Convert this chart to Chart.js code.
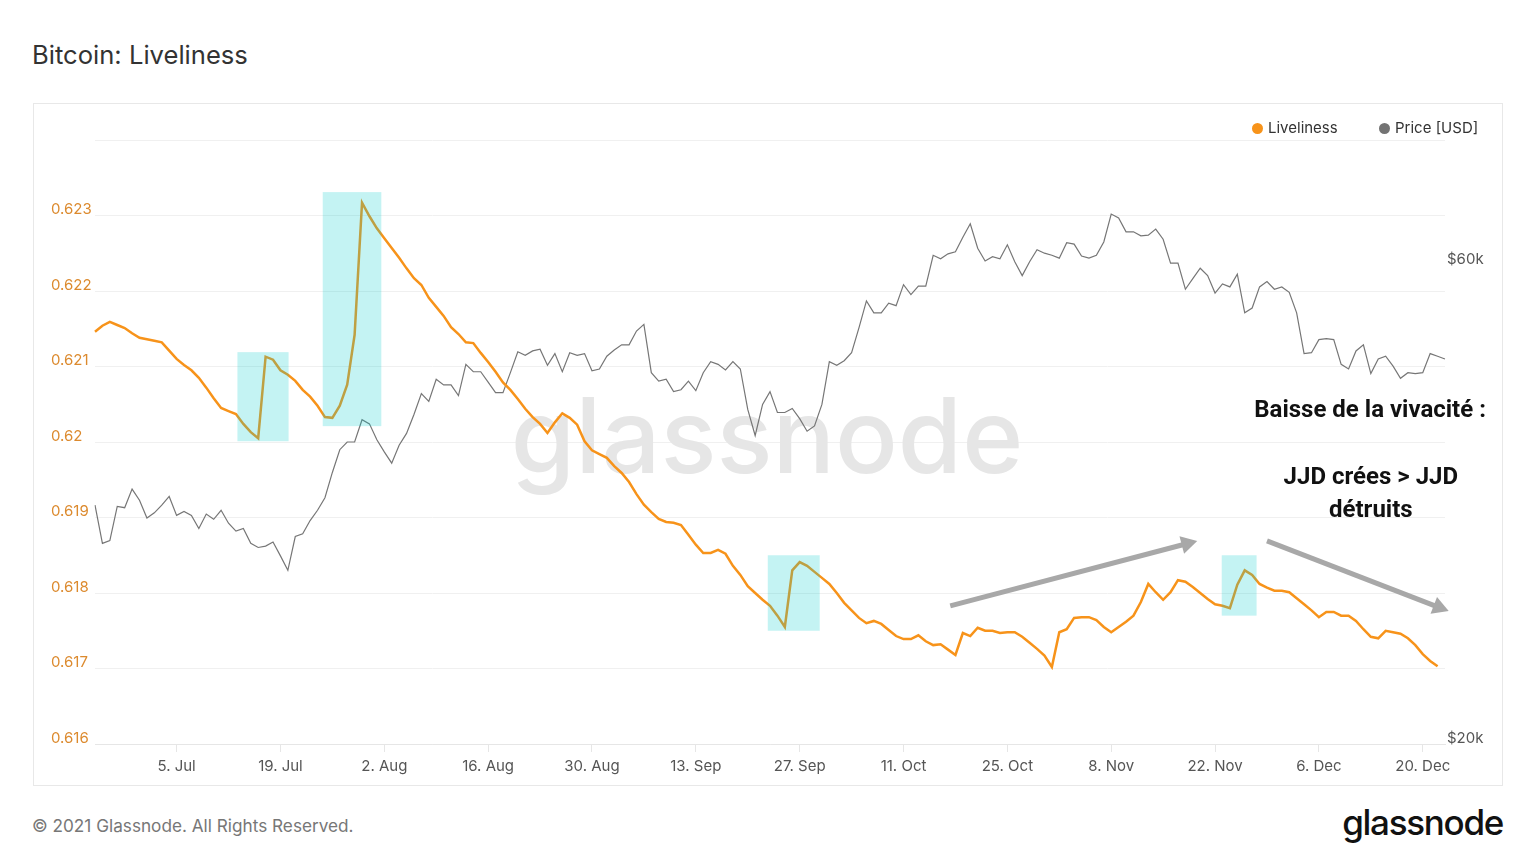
<!DOCTYPE html>
<html>
<head>
<meta charset="utf-8">
<title>Bitcoin: Liveliness</title>
<script src="https://cdn.jsdelivr.net/npm/chart.js@4.4.0/dist/chart.umd.min.js"></script>
<style>
  body { margin: 0; background: #fff; width: 1536px; height: 864px; overflow: hidden; position: relative; font-family: Inter, "Noto Sans", sans-serif; }
  #title { position: absolute; left: 32px; top: 38px; font-size: 25.6px; color: #333; line-height: 34px; }
  #frame { position: absolute; left: 33px; top: 103px; width: 1468px; height: 681px; border: 1px solid #e8e8e8; }
  #chart { position: absolute; left: 0; top: 0; }
  .item { position: absolute; top: 14px; font-size: 15px; color: #333; line-height: 20px; white-space: nowrap; }
  .dot { display: inline-block; width: 11px; height: 11px; border-radius: 50%; margin-right: 5px; vertical-align: -1px; }
  #copy { position: absolute; left: 32px; top: 814px; font-size: 17.2px; color: #777; line-height: 24px; }
  #logo { position: absolute; right: 33px; top: 800px; font-size: 35px; font-weight: 500; letter-spacing: -1.3px; color: #111; line-height: 44px; }
</style>
</head>
<body>
<div id="title">Bitcoin: Liveliness</div>
<div id="frame">
  <canvas id="chart" width="1468" height="681"></canvas>
  <div class="item" style="left:1218px"><span class="dot" style="background:#f7931a"></span>Liveliness</div>
  <div class="item" style="left:1345px"><span class="dot" style="background:#737373"></span>Price [USD]</div>
</div>
<div id="copy">© 2021 Glassnode. All Rights Reserved.</div>
<div id="logo">glassnode</div>
<script>
// jours affichés : du 24 juin au 23 déc. 2021
const startDay = Date.UTC(2021, 5, 24);
const dayCount = 183;
const monthNames = ["Jan", "Feb", "Mar", "Apr", "May", "Jun", "Jul", "Aug", "Sep", "Oct", "Nov", "Dec"];
const dates = [];
for (let i = 0; i < dayCount; i++) {
  const d = new Date(startDay + i * 86400000);
  dates.push(d.getUTCDate() + ". " + monthNames[d.getUTCMonth()]);
}

const xTicks = ["5. Jul", "19. Jul", "2. Aug", "16. Aug", "30. Aug", "13. Sep", "27. Sep",
  "11. Oct", "25. Oct", "8. Nov", "22. Nov", "6. Dec", "20. Dec"];
const priceTicks = [20000, 60000];

const liveliness = [
  0.62146, 0.62154, 0.62159, 0.62155, 0.62151, 0.62144, 0.62138, 0.62136, 0.62134, 0.62132,
  0.62121, 0.62110, 0.62102, 0.62095, 0.62085, 0.62072, 0.62058, 0.62045, 0.62041, 0.62037,
  0.62024, 0.62013, 0.62005, 0.62113, 0.62109, 0.62095, 0.62089, 0.62081, 0.62069, 0.62060,
  0.62048, 0.62033, 0.62032, 0.62048, 0.62076, 0.62142, 0.62317, 0.62299, 0.62283, 0.62270,
  0.62257, 0.62244, 0.62230, 0.62217, 0.62208, 0.62191, 0.62179, 0.62167, 0.62152, 0.62143,
  0.62132, 0.62131, 0.62118, 0.62106, 0.62093, 0.62079, 0.62069, 0.62057, 0.62044, 0.62033,
  0.62024, 0.62012, 0.62026, 0.62038, 0.62032, 0.62023, 0.62001, 0.61989, 0.61984, 0.61979,
  0.61968, 0.61959, 0.61947, 0.61931, 0.61917, 0.61907, 0.61898, 0.61894, 0.61893, 0.61890,
  0.61877, 0.61864, 0.61853, 0.61853, 0.61857, 0.61852, 0.61836, 0.61824, 0.61809, 0.61800,
  0.61791, 0.61783, 0.61770, 0.61755, 0.61830, 0.61841, 0.61836, 0.61828, 0.61820, 0.61812,
  0.61800, 0.61787, 0.61777, 0.61767, 0.61760, 0.61763, 0.61759, 0.61751, 0.61743, 0.61739,
  0.61739, 0.61744, 0.61736, 0.61731, 0.61732, 0.61725, 0.61718, 0.61747, 0.61743, 0.61754,
  0.61750, 0.61750, 0.61747, 0.61748, 0.61748, 0.61742, 0.61734, 0.61726, 0.61717, 0.61702,
  0.61748, 0.61752, 0.61767, 0.61768, 0.61768, 0.61764, 0.61755, 0.61748, 0.61755, 0.61762,
  0.61770, 0.61788, 0.61812, 0.61801, 0.61791, 0.61801, 0.61817, 0.61815, 0.61808, 0.61800,
  0.61792, 0.61785, 0.61783, 0.61780, 0.61811, 0.61830, 0.61824, 0.61812, 0.61807, 0.61803,
  0.61803, 0.61801, 0.61793, 0.61785, 0.61777, 0.61768, 0.61775, 0.61775, 0.61770, 0.61770,
  0.61763, 0.61752, 0.61742, 0.61740, 0.61750, 0.61748, 0.61746, 0.61740, 0.61731, 0.61719,
  0.61710, 0.61703
];

const price = [
  34600, 31700, 31900, 34500, 34400, 35900, 35000, 33600, 34000, 34600,
  35300, 33800, 34100, 33800, 32800, 33900, 33500, 34200, 33200, 32600,
  32800, 31700, 31400, 31500, 31800, 30800, 29800, 32200, 32400, 33400,
  34200, 35200, 37300, 39300, 40000, 40000, 42100, 41700, 40200, 39100,
  38100, 39700, 40800, 42600, 44700, 43900, 46200, 45600, 45600, 44500,
  47800, 47000, 47000, 45900, 44800, 44800, 46900, 49200, 48800, 49300,
  49500, 47700, 49000, 47000, 49100, 48800, 49000, 47100, 47300, 48700,
  49400, 50000, 50000, 51600, 52400, 46900, 46000, 46200, 44900, 45100,
  46000, 45000, 46900, 48100, 47800, 47200, 48100, 47300, 43100, 40600,
  43600, 44900, 42800, 42800, 43200, 42200, 41000, 41500, 43600, 48100,
  47700, 48200, 49100, 52000, 55300, 53800, 53800, 55000, 54700, 57400,
  56100, 57200, 57200, 61400, 60900, 61600, 61900, 64000, 66000, 62400,
  60600, 61200, 60900, 62900, 60500, 58600, 60500, 62200, 61700, 61400,
  61000, 63200, 63000, 61300, 61000, 61400, 63300, 67500, 66900, 64800,
  64800, 64200, 64300, 65200, 63700, 60300, 60300, 56800, 58200, 59600,
  58600, 56300, 57500, 57100, 58800, 53800, 54400, 57100, 57800, 56800,
  57100, 56400, 53800, 49000, 49100, 50600, 50700, 50600, 47800, 47300,
  49300, 50000, 46800, 48400, 48700, 47600, 46300, 46900, 46800, 46900,
  49000, 48700, 48400
];

// zones surlignées : [jour début, jour fin, liveliness bas, liveliness haut]
const highlights = [
  [19.2, 26.1, 0.62001, 0.62119],
  [30.7, 38.6, 0.62021, 0.62331],
  [90.7, 97.7, 0.61750, 0.61850],
  [151.9, 156.6, 0.61770, 0.61850]
];
// flèches : [jour départ, valeur départ, jour arrivée, valeur arrivée]
const arrows = [
  [115.3, 0.61783, 148.6, 0.61869],
  [158.0, 0.61869, 182.5, 0.61776]
];
// textes : [texte, jour (centre), valeur]
const notes = [
  ["Baisse de la vivacité :", 171.9, 0.62041],
  ["JJD crées > JJD", 172.0, 0.61952],
  ["détruits", 172.0, 0.61909]
];

const annotations = {
  id: "annotations",
  beforeDatasetsDraw(chart) {
    const { ctx, chartArea } = chart;
    ctx.save();
    ctx.font = "500 104px Inter";
    ctx.fillStyle = "#e6e6e6";
    ctx.textAlign = "center";
    ctx.textBaseline = "alphabetic";
    ctx.fillText("glassnode", (chartArea.left + chartArea.right) / 2 - 3, chartArea.top + 333);
    ctx.restore();
  },
  afterDatasetsDraw(chart) {
    const { ctx } = chart;
    const xs = chart.scales.x;
    const ys = chart.scales.y;
    ctx.save();

    ctx.fillStyle = "rgba(0, 205, 205, 0.23)";
    highlights.forEach(([d0, d1, v0, v1]) => {
      const x0 = xs.getPixelForValue(d0);
      const x1 = xs.getPixelForValue(d1);
      const y0 = ys.getPixelForValue(v1);
      const y1 = ys.getPixelForValue(v0);
      ctx.fillRect(x0, y0, x1 - x0, y1 - y0);
    });

    ctx.strokeStyle = "#a8a8a8";
    ctx.fillStyle = "#a8a8a8";
    ctx.lineWidth = 5;
    arrows.forEach(([d0, v0, d1, v1]) => {
      const x0 = xs.getPixelForValue(d0);
      const y0 = ys.getPixelForValue(v0);
      const x1 = xs.getPixelForValue(d1);
      const y1 = ys.getPixelForValue(v1);
      const a = Math.atan2(y1 - y0, x1 - x0);
      const len = 16;
      const half = 9;
      const bx = x1 - len * Math.cos(a);
      const by = y1 - len * Math.sin(a);
      ctx.beginPath();
      ctx.moveTo(x0, y0);
      ctx.lineTo(bx + 2 * Math.cos(a), by + 2 * Math.sin(a));
      ctx.stroke();
      ctx.beginPath();
      ctx.moveTo(x1, y1);
      ctx.lineTo(bx + half * Math.sin(a), by - half * Math.cos(a));
      ctx.lineTo(bx - half * Math.sin(a), by + half * Math.cos(a));
      ctx.closePath();
      ctx.fill();
    });

    ctx.fillStyle = "#111";
    ctx.font = "bold 24px Roboto";
    ctx.textAlign = "center";
    ctx.textBaseline = "middle";
    notes.forEach(([t, d, v]) => {
      ctx.fillText(t, xs.getPixelForValue(d), ys.getPixelForValue(v));
    });
    ctx.restore();
  }
};

const ctx = document.getElementById("chart").getContext("2d");
new Chart(ctx, {
  type: "line",
  data: {
    labels: dates,
    datasets: [
      {
        label: "Liveliness",
        data: liveliness,
        yAxisID: "y",
        borderColor: "#f7931a",
        borderWidth: 2.5,
        pointRadius: 0,
        tension: 0,
        order: 0,
      },
      {
        label: "Price [USD]",
        data: price,
        yAxisID: "y1",
        borderColor: "#767676",
        borderWidth: 1.2,
        pointRadius: 0,
        tension: 0,
        order: 1,
      },
    ],
  },
  options: {
    responsive: false,
    animation: false,
    events: [],
    layout: { padding: { left: 17, top: 36, right: 0, bottom: 0 } },
    plugins: {
      legend: { display: false },
      tooltip: { enabled: false },
    },
    scales: {
      x: {
        type: "category",
        grid: { drawOnChartArea: false, drawTicks: true, tickLength: 8, color: "#e6e6e6" },
        border: { color: "#e6e6e6" },
        ticks: {
          autoSkip: false,
          maxRotation: 0,
          padding: 5,
          color: "#555",
          font: { family: "Inter", size: 15 },
        },
        afterBuildTicks: (s) => {
          s.ticks = s.ticks.filter((t) => xTicks.includes(dates[t.value]));
        },
        afterFit: (s) => {
          s.height = 41;
        },
      },
      y: {
        position: "left",
        min: 0.616,
        max: 0.624,
        grid: { color: "#f0f0f0", drawTicks: false },
        border: { display: false },
        ticks: {
          stepSize: 0.001,
          crossAlign: "far",
          labelOffset: -6,
          padding: 0,
          color: "#dc8a2e",
          font: { family: "Inter", size: 15 },
          callback: (v) => (v > 0.6235 ? "" : String(+v.toFixed(3))),
        },
        afterFit: (s) => {
          s.width = 44;
        },
      },
      y1: {
        type: "logarithmic",
        position: "right",
        min: 20000,
        max: 80000,
        grid: { drawOnChartArea: false, drawTicks: false },
        border: { display: false },
        ticks: {
          padding: 2,
          labelOffset: -6,
          color: "#555",
          font: { family: "Inter", size: 15 },
          callback: (v) => "$" + v / 1000 + "k",
        },
        afterBuildTicks: (s) => {
          s.ticks = priceTicks.map((v) => ({ value: v }));
        },
        afterFit: (s) => {
          s.width = 57;
        },
      },
    },
  },
  plugins: [annotations],
});
</script>
</body>
</html>
